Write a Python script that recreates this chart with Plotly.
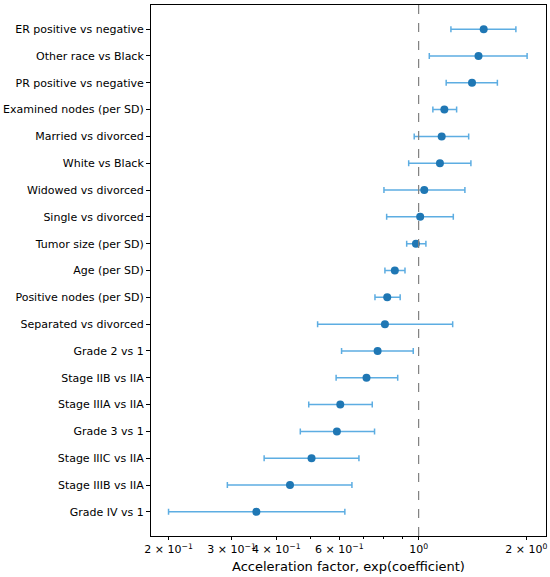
import plotly.graph_objects as go

# covariates, top to bottom
labels = ["ER positive vs negative", "Other race vs Black", "PR positive vs negative",
          "Examined nodes (per SD)", "Married vs divorced", "White vs Black",
          "Widowed vs divorced", "Single vs divorced", "Tumor size (per SD)",
          "Age (per SD)", "Positive nodes (per SD)", "Separated vs divorced",
          "Grade 2 vs 1", "Stage IIB vs IIA", "Stage IIIA vs IIA", "Grade 3 vs 1",
          "Stage IIIC vs IIA", "Stage IIIB vs IIA", "Grade IV vs 1"]
af = [1.52, 1.47, 1.41, 1.18, 1.16, 1.147, 1.037, 1.01, 0.983, 0.858, 0.817,
      0.805, 0.768, 0.715, 0.604, 0.591, 0.502, 0.437, 0.352]
ci_low = [1.231, 1.071, 1.194, 1.096, 0.972, 0.938, 0.80, 0.814, 0.926, 0.805,
          0.755, 0.522, 0.609, 0.588, 0.493, 0.467, 0.370, 0.292, 0.200]
ci_high = [1.87, 2.01, 1.66, 1.277, 1.38, 1.40, 1.347, 1.25, 1.048, 0.916,
           0.888, 1.245, 0.966, 0.874, 0.742, 0.753, 0.681, 0.651, 0.622]

tick_vals = [0.2, 0.3, 0.4, 0.6, 1, 2]
tick_text = ["2 × 10<sup>−1</sup>", "3 × 10<sup>−1</sup>", "4 × 10<sup>−1</sup>",
             "6 × 10<sup>−1</sup>", "10<sup>0</sup>", "2 × 10<sup>0</sup>"]
minor_vals = [0.5, 0.7, 0.8, 0.9]

err_plus = [h - m for h, m in zip(ci_high, af)]
err_minus = [m - l for m, l in zip(af, ci_low)]

fig = go.Figure()
fig.add_trace(go.Scatter(
    x=af, y=labels, mode="markers",
    marker=dict(color="#1f77b4", size=8),
    error_x=dict(type="data", symmetric=False, array=err_plus, arrayminus=err_minus,
                 color="#5dade2", thickness=1.5, width=3),
    showlegend=False,
))
fig.add_vline(x=1, line=dict(color="gray", dash="dash", width=1.2))

fig.update_layout(
    width=550, height=577,
    margin=dict(l=151, r=4, t=5, b=41, autoexpand=False),
    plot_bgcolor="white", paper_bgcolor="white",
    font=dict(family="DejaVu Sans", size=11, color="black"),
)
fig.update_xaxes(
    type="log", range=[-0.748, 0.356],
    tickmode="array", tickvals=tick_vals, ticktext=tick_text, tickangle=0,
    ticks="outside", ticklen=3, tickcolor="black",
    minor=dict(tickmode="array", tickvals=minor_vals, ticks="outside", ticklen=2,
               tickcolor="black", showgrid=False),
    showgrid=False, zeroline=False,
    showline=True, linecolor="black", linewidth=1, mirror=True,
    title=dict(text="Acceleration factor, exp(coefficient)", standoff=6),
)
fig.update_yaxes(
    categoryorder="array", categoryarray=labels,
    range=[18.9, -0.9],
    ticks="outside", ticklen=4, tickcolor="black",
    showgrid=False, zeroline=False,
    showline=True, linecolor="black", linewidth=1, mirror=True,
)

# drop the browser's default page margin so the figure sits at the corner
fig.write_html("out.html", config={"displayModeBar": False},
               post_script="document.body.style.margin = '0';")
